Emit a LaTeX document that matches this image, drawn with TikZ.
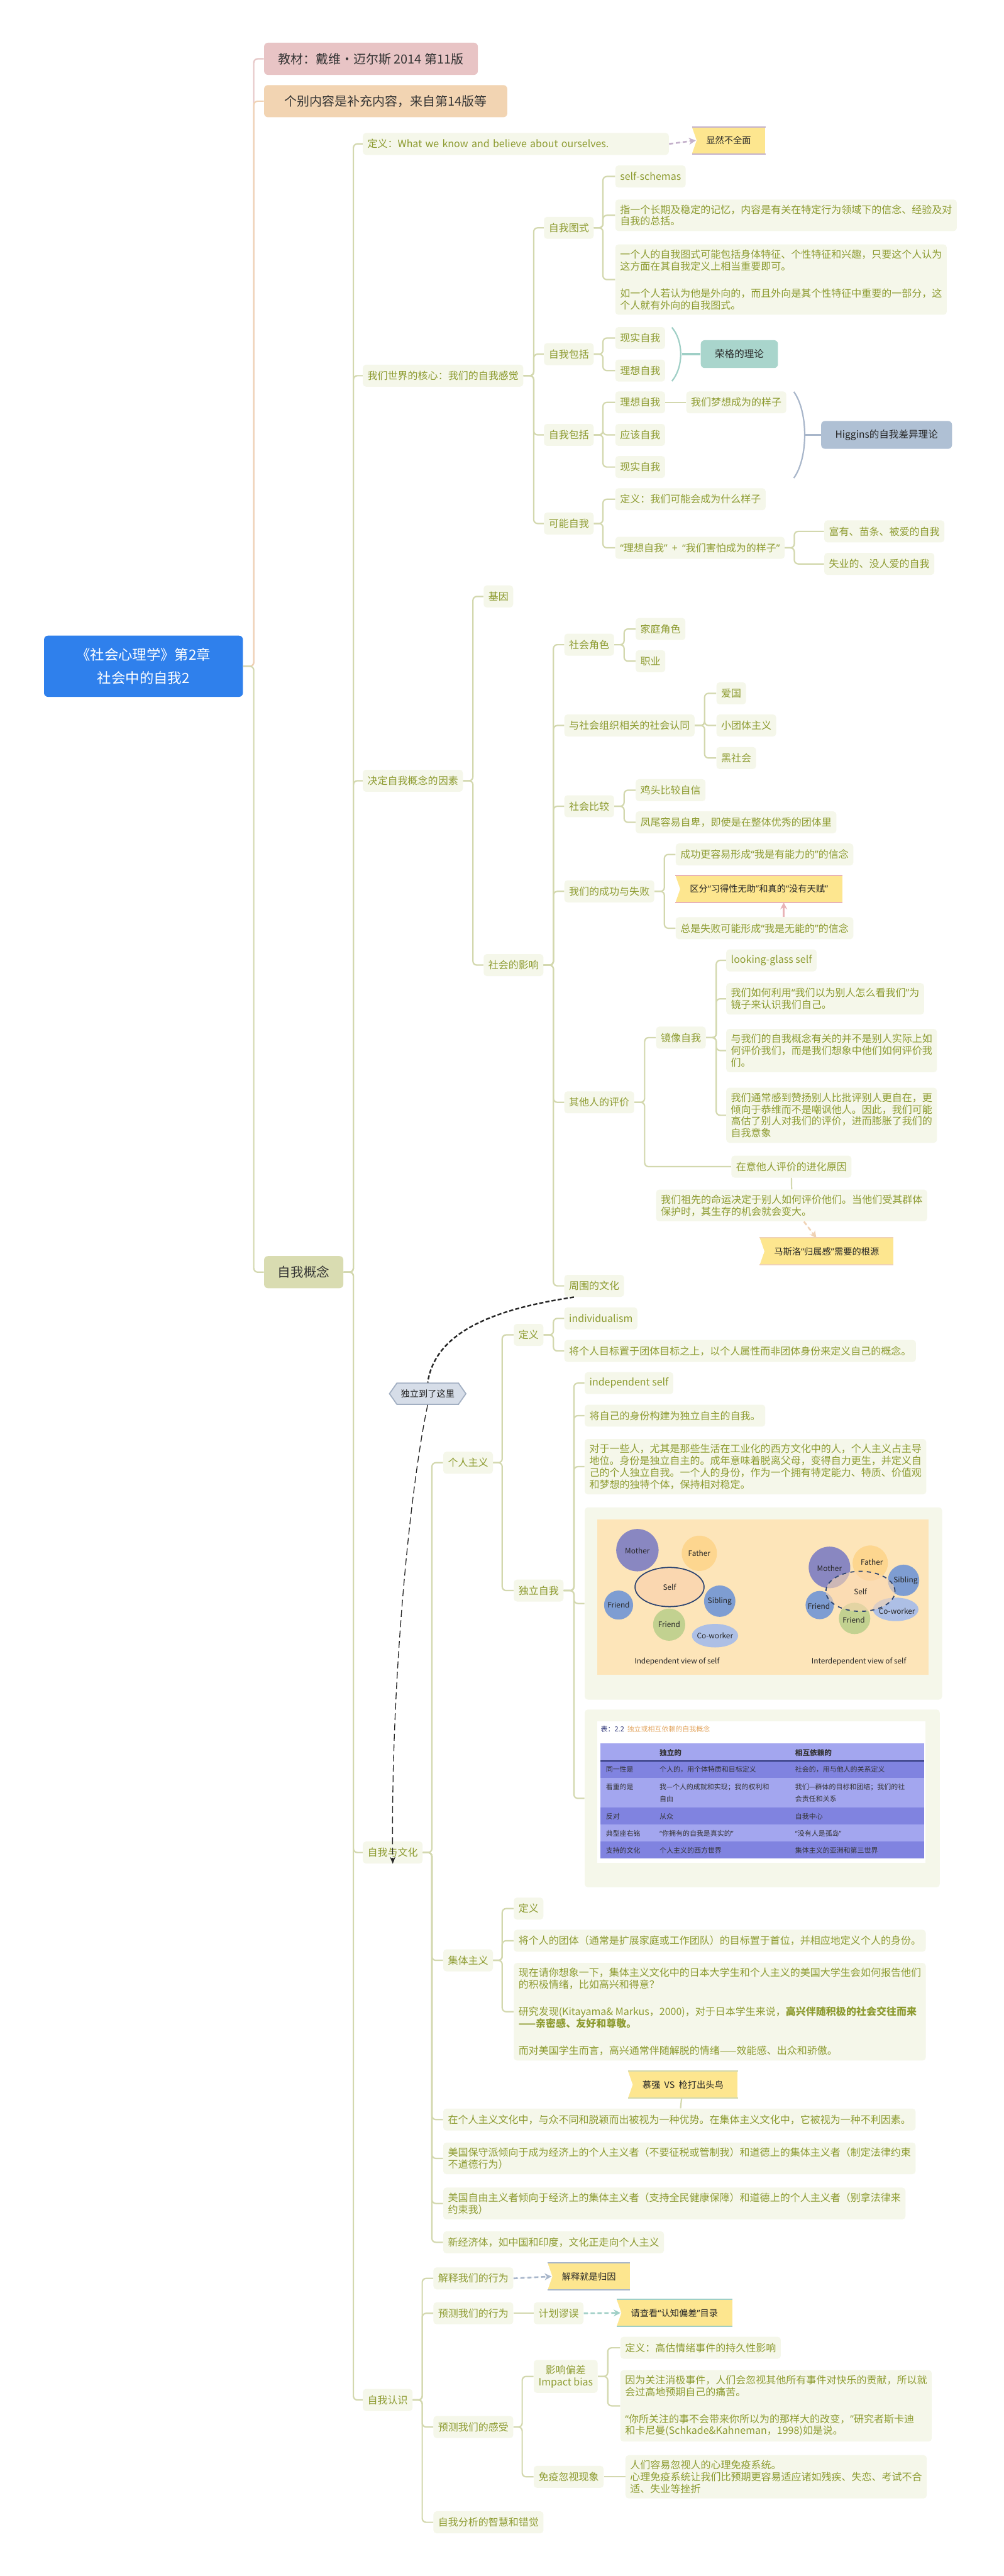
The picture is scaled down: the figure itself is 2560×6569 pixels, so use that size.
\documentclass[tikz,border=0pt]{standalone}
\usepackage{fontspec}
\setmainfont{Noto Sans CJK SC}
\newfontfamily\quotefont{Noto Sans}
\usetikzlibrary{arrows.meta,shapes.symbols}

% narrow (western) curly quotes, as in the reference
\XeTeXinterchartokenstate=1
\newXeTeXintercharclass\quoteclass
\XeTeXcharclass`“=\quoteclass
\XeTeXcharclass`”=\quoteclass
\XeTeXinterchartoks 0 \quoteclass={\quotefont}
\XeTeXinterchartoks 4095 \quoteclass={\quotefont}
\XeTeXinterchartoks \quoteclass 0={\rmfamily}
\XeTeXinterchartoks \quoteclass 4095={\rmfamily}

\definecolor{rootblue}{HTML}{2F80EC}
\definecolor{topicfill}{HTML}{F5F7EA}
\definecolor{topictext}{HTML}{8D9B30}
\definecolor{branch}{HTML}{D3D8AE}
\definecolor{pinkbox}{HTML}{E8C4C5}
\definecolor{pinkline}{HTML}{E6C6C6}
\definecolor{peachbox}{HTML}{F2D4B2}
\definecolor{peachline}{HTML}{F0D2B4}
\definecolor{olivebox}{HTML}{D9DCB1}
\definecolor{noteyellow}{HTML}{FDE68F}
\definecolor{tealbox}{HTML}{A9D5CC}
\definecolor{tealline}{HTML}{9FCFC6}
\definecolor{greybox}{HTML}{AFC0D4}
\definecolor{greyline}{HTML}{A8B6CA}
\definecolor{purpleline}{HTML}{C4B1CB}
\definecolor{rosearrow}{HTML}{E8B3B6}
\definecolor{hexfill}{HTML}{D6DDE8}
\definecolor{hexline}{HTML}{A2AFC2}
\definecolor{figpanel}{HTML}{FDE5B9}
\definecolor{mothercol}{HTML}{8987C1}
\definecolor{fathercol}{HTML}{FDD68F}
\definecolor{selfcol}{HTML}{FAD7B0}
\definecolor{bluecol}{HTML}{7E9DD2}
\definecolor{greencol}{HTML}{C2D190}
\definecolor{cowcol}{HTML}{ADBFE5}
\definecolor{navy}{HTML}{2C4470}
\definecolor{rowlight}{HTML}{A3A6EF}
\definecolor{rowdark}{HTML}{8083E0}
\definecolor{tabnavy}{HTML}{2E3578}
\definecolor{taborange}{HTML}{E3A55F}

% yellow flag callouts: notch on the left, coloured top and bottom rims
\newcommand{\flagnotch}[2]{%
  \fill[white] (#1.north west) -- ([xshift=0.12cm]#1.west) -- (#1.south west) -- cycle;
  \draw[#2, line width=0.9pt] (#1.north west) -- (#1.north east) (#1.south west) -- (#1.south east);}

\begin{document}
\begin{tikzpicture}[x=0.01cm,y=-0.01cm]
\tikzstyle{topic}=[rectangle, rounded corners=0.08cm, fill=topicfill, text=topictext, font=\fontsize{7.3pt}{8.6pt}\selectfont, inner xsep=0.12cm, inner ysep=0.13cm, minimum height=0.56cm, anchor=west, align=left]
\tikzstyle{mainbox}=[rectangle, rounded corners=0.1cm, text=black!80, font=\fontsize{9.1pt}{11pt}\selectfont, minimum height=0.82cm, anchor=west]
\tikzstyle{note}=[rectangle, fill=noteyellow, text=black!85, font=\fontsize{6.5pt}{8pt}\selectfont, inner xsep=0.36cm, minimum height=0.67cm, anchor=west]
\tikzstyle{theory}=[rectangle, rounded corners=0.1cm, text=black!85, font=\fontsize{7.1pt}{8.6pt}\selectfont, inner xsep=0.36cm, minimum height=0.71cm, anchor=west]
\tikzstyle{link}=[draw=branch, line width=1pt, rounded corners=0.1cm]
\tikzstyle{relarrow}=[line width=1.2pt, dash pattern=on 3pt off 2pt, -{Stealth[length=5pt,width=5pt]}]
\tikzstyle{small}=[font=\fontsize{5.4pt}{6.5pt}\selectfont, text=black!85, inner sep=0pt]
\tikzstyle{tabtext}=[font=\fontsize{5pt}{8.6pt}\selectfont, text=black!80, anchor=west, inner sep=0pt, align=left]

\useasboundingbox (0,0) rectangle (2560,6569);
\fill[white] (0,0) rectangle (2560,6569);

% root and first level
\node[rectangle, rounded corners=0.1cm, fill=rootblue, text=white, minimum width=5.07cm, minimum height=1.56cm, align=center, font=\fontsize{10.2pt}{16.5pt}\selectfont] (root) at (366,1699) {《社会心理学》第2章\\社会中的自我2};
\node[mainbox, fill=pinkbox, minimum width=5.45cm] (book) at (673,150) {教材：戴维·迈尔斯 2014 第11版};
\node[mainbox, fill=peachbox, minimum width=6.2cm] (extra) at (673,258) {个别内容是补充内容，来自第14版等};
\node[mainbox, fill=olivebox, minimum width=2.02cm, font=\fontsize{9.4pt}{11pt}\selectfont] (zw) at (673,3244) {自我概念};

\draw[link, draw=pinkline] (root.east) -- ++(27,0) |- (book.west);
\draw[link, draw=peachline] (root.east) -- ++(27,0) |- (extra.west);
\draw[link] (root.east) -- ++(27,0) |- (zw.west);

% second level
\node[topic, text width=7.56cm] (dy) at (925,367) {定义：What we know and believe about ourselves.};
\node[topic] (hx) at (925,958) {我们世界的核心：我们的自我感觉};
\node[topic] (jd) at (925,1991) {决定自我概念的因素};
\node[topic] (wh) at (925,4724) {自我与文化};
\node[topic] (rs) at (925,6120) {自我认识};
\foreach \c in {dy,hx,jd,wh,rs} \draw[link] (zw.east) -- ++(25,0) |- (\c.west);

\node[note] (bq) at (1765,358) {显然不全面};
\flagnotch{bq}{purpleline}
\draw[relarrow, draw=purpleline, fill=purpleline] (dy.east) -- ([xshift=0.1cm]bq.west);

% 我们的自我感觉
\node[topic] (ts) at (1387,581) {自我图式};
\node[topic] (bk1) at (1387,903) {自我包括};
\node[topic] (bk2) at (1387,1109) {自我包括};
\node[topic] (kn) at (1387,1335) {可能自我};
\foreach \c in {ts,bk1,bk2,kn} \draw[link] (hx.east) -- ++(26,0) |- (\c.west);

\node[topic] (ss) at (1569,450) {self-schemas};
\node[topic] (ts1) at (1569,549) {指一个长期及稳定的记忆，内容是有关在特定行为领域下的信念、经验及对\\自我的总括。};
\node[topic] (ts2) at (1569,713) {一个人的自我图式可能包括身体特征、个性特征和兴趣，只要这个人认为\\这方面在其自我定义上相当重要即可。\\[11pt]如一个人若认为他是外向的，而且外向是其个性特征中重要的一部分，这\\个人就有外向的自我图式。};
\foreach \c in {ss,ts1,ts2} \draw[link] (ts.east) -- ++(23,0) |- (\c.west);

\node[topic] (xs1) at (1569,862) {现实自我};
\node[topic] (lx1) at (1569,945) {理想自我};
\foreach \c in {xs1,lx1} \draw[link] (bk1.east) -- ++(23,0) |- (\c.west);
\node[theory, fill=tealbox] (rg) at (1787,903) {荣格的理论};
\draw[tealline, line width=1pt] (1714,835) .. controls (1744,870) and (1744,936) .. (1714,972);
\draw[tealline, line width=1.5pt] (1740,903) -- (rg.west);

\node[topic] (lx2) at (1569,1026) {理想自我};
\node[topic] (yg) at (1569,1109) {应该自我};
\node[topic] (xs2) at (1569,1191) {现实自我};
\foreach \c in {lx2,yg,xs2} \draw[link] (bk2.east) -- ++(23,0) |- (\c.west);
\node[topic] (mx) at (1750,1026) {我们梦想成为的样子};
\draw[link] (lx2.east) -- (mx.west);
\node[theory, fill=greybox] (hg) at (2094,1109) {Higgins的自我差异理论};
\draw[greyline, line width=1pt] (2025,999) .. controls (2062,1050) and (2062,1168) .. (2025,1219);
\draw[greyline, line width=1.5pt] (2053,1109) -- (hg.west);

\node[topic] (kdy) at (1569,1273) {定义：我们可能会成为什么样子};
\node[topic] (lh) at (1569,1397) {“理想自我”\ \ +\ \ “我们害怕成为的样子”};
\foreach \c in {kdy,lh} \draw[link] (kn.east) -- ++(23,0) |- (\c.west);
\node[topic] (fy) at (2102,1355) {富有、苗条、被爱的自我};
\node[topic] (sy) at (2102,1438) {失业的、没人爱的自我};
\foreach \c in {fy,sy} \draw[link] (lh.east) -- ++(24,0) |- (\c.west);

% 决定自我概念的因素
\node[topic] (jy) at (1233,1521) {基因};
\node[topic] (sh) at (1233,2461) {社会的影响};
\foreach \c in {jy,sh} \draw[link] (jd.east) -- ++(25,0) |- (\c.west);

\node[topic] (js) at (1439,1644) {社会角色};
\node[topic] (rt) at (1439,1850) {与社会组织相关的社会认同};
\node[topic] (bj) at (1439,2056) {社会比较};
\node[topic] (cg) at (1439,2273) {我们的成功与失败};
\node[topic] (pj) at (1439,2811) {其他人的评价};
\node[topic] (whz) at (1439,3279) {周围的文化};
\foreach \c in {js,rt,bj,cg,pj,whz} \draw[link] (sh.east) -- ++(25,0) |- (\c.west);

\node[topic] (jt1) at (1621,1604) {家庭角色};
\node[topic] (zy) at (1621,1686) {职业};
\foreach \c in {jt1,zy} \draw[link] (js.east) -- ++(25,0) |- (\c.west);
\node[topic] (ag) at (1827,1768) {爱国};
\node[topic] (xt) at (1827,1850) {小团体主义};
\node[topic] (hs) at (1827,1933) {黑社会};
\foreach \c in {ag,xt,hs} \draw[link] (rt.east) -- ++(25,0) |- (\c.west);
\node[topic] (jt2) at (1621,2015) {鸡头比较自信};
\node[topic] (fw) at (1621,2097) {凤尾容易自卑，即使是在整体优秀的团体里};
\foreach \c in {jt2,fw} \draw[link] (bj.east) -- ++(25,0) |- (\c.west);

\node[topic] (cgx) at (1723,2179) {成功更容易形成“我是有能力的”的信念};
\node[topic] (zs) at (1723,2367) {总是失败可能形成“我是无能的”的信念};
\foreach \c in {cgx,zs} \draw[link] (cg.east) -- ++(25,0) |- (\c.west);
\node[note] (qf) at (1723,2267) {区分“习得性无助”和真的“没有天赋”};
\flagnotch{qf}{rosearrow}
\draw[relarrow, draw=rosearrow, fill=rosearrow, solid] ([xshift=0.49cm]zs.north) -- ([xshift=0.49cm]zs.north |- qf.south);

\node[topic] (jx) at (1673,2646) {镜像自我};
\node[topic] (yh) at (1865,2975) {在意他人评价的进化原因};
\foreach \c in {jx,yh} \draw[link] (pj.east) -- ++(26,0) |- (\c.west);
\node[topic] (lg) at (1852,2449) {looking-glass self};
\node[topic] (jx1) at (1852,2547) {我们如何利用“我们以为别人怎么看我们”为\\镜子来认识我们自己。};
\node[topic] (jx2) at (1852,2679) {与我们的自我概念有关的并不是别人实际上如\\何评价我们，而是我们想象中他们如何评价我\\们。};
\node[topic] (jx3) at (1852,2844) {我们通常感到赞扬别人比批评别人更自在，更\\倾向于恭维而不是嘲讽他人。因此，我们可能\\高估了别人对我们的评价，进而膨胀了我们的\\自我意象};
\foreach \c in {lg,jx1,jx2,jx3} \draw[link] (jx.east) -- ++(26,0) |- (\c.west);

\node[topic] (zx) at (1673,3074) {我们祖先的命运决定于别人如何评价他们。当他们受其群体\\保护时，其生存的机会就会变大。};
\draw[link] (yh.south) -- (zx.north);
\node[note] (msl) at (1938,3191) {马斯洛“归属感”需要的根源};
\flagnotch{msl}{peachline}
\draw[relarrow, draw=peachline, fill=peachline] (zx) -- (msl);

% 独立到了这里
\node[signal, signal to=west and east, signal pointer angle=110, fill=hexfill, draw=hexline, line width=0.8pt, text=black!85, font=\fontsize{6.5pt}{8pt}\selectfont, minimum height=0.54cm, inner xsep=0.1cm] (jump) at (1091,3554) {独立到了这里};
\draw[line width=1.1pt, dash pattern=on 3pt off 1.5pt, black!85] ([xshift=0.25cm]whz.south west) .. controls (1250,3340) and (1110,3400) .. (jump.north);
\draw[line width=0.6pt, dash pattern=on 5pt off 2.5pt, black!85, -{Stealth[length=5pt,width=4pt]}] (jump.south) .. controls (1045,3800) and (996,4300) .. (wh.south);

% 自我与文化
\node[topic] (gr) at (1130,3730) {个人主义};
\node[topic] (jti) at (1130,4999) {集体主义};
\node[topic] (zz1) at (1130,5405) {在个人主义文化中，与众不同和脱颖而出被视为一种优势。在集体主义文化中，它被视为一种不利因素。};
\node[topic] (mb) at (1130,5504) {美国保守派倾向于成为经济上的个人主义者（不要征税或管制我）和道德上的集体主义者（制定法律约束\\不道德行为）};
\node[topic] (mz) at (1130,5619) {美国自由主义者倾向于经济上的集体主义者（支持全民健康保障）和道德上的个人主义者（别拿法律来\\约束我）};
\node[topic] (xj) at (1130,5718) {新经济体，如中国和印度，文化正走向个人主义};
\foreach \c in {gr,jti,zz1,mb,mz,xj} \draw[link] (wh.east) -- ++(23,0) |- (\c.west);
\node[note] (mq) at (1602,5316) {慕强\ \ VS\ \ 枪打出头鸟};
\flagnotch{mq}{branch}
\draw[link] (zz1) -- (mq);

\node[topic] (gd) at (1310,3404) {定义};
\node[topic] (dl) at (1310,4056) {独立自我};
\foreach \c in {gd,dl} \draw[link] (gr.east) -- ++(23,0) |- (\c.west);
\node[topic] (ind) at (1439,3362) {individualism};
\node[topic] (gdd) at (1439,3445) {将个人目标置于团体目标之上，以个人属性而非团体身份来定义自己的概念。};
\foreach \c in {ind,gdd} \draw[link] (gd.east) -- ++(25,0) |- (\c.west);

\node[topic] (is) at (1491,3527) {independent self};
\node[topic] (jz) at (1491,3610) {将自己的身份构建为独立自主的自我。};
\node[topic] (dx) at (1491,3740) {对于一些人，尤其是那些生活在工业化的西方文化中的人，个人主义占主导\\地位。身份是独立自主的。成年意味着脱离父母，变得自力更生，并定义自\\己的个人独立自我。一个人的身份，作为一个拥有特定能力、特质、价值观\\和梦想的独特个体，保持相对稳定。};
\node[topic, minimum width=9.11cm, minimum height=4.9cm] (fig) at (1491,4089) {};
\node[topic, minimum width=9.05cm, minimum height=4.53cm] (tab) at (1491,4586) {};
\foreach \c in {is,jz,dx,fig,tab} \draw[link] (dl.east) -- ++(26,0) |- (\c.west);

% picture: independent / interdependent view of self
\fill[figpanel] (1524,3874) rectangle (2368,4271);
\fill[mothercol] (1626,3953) circle (0.54cm);
\fill[fathercol] (1784,3961) circle (0.45cm);
\fill[bluecol] (1578,4093) circle (0.37cm);
\fill[bluecol] (1836,4083) circle (0.40cm);
\fill[greencol] (1707,4143) circle (0.41cm);
\fill[cowcol] (1824,4171) ellipse [x radius=0.59cm, y radius=0.30cm];
\filldraw[fill=selfcol, draw=navy, line width=0.8pt] (1708,4047) ellipse [x radius=0.88cm, y radius=0.50cm];
\node[small] (m1) at (1626,3954) {Mother};
\node[small] (f1) at (1784,3961) {Father};
\node[small] (s1) at (1708,4047) {Self};
\node[small] (fa1) at (1578,4093) {Friend};
\node[small] (sb1) at (1836,4083) {Sibling};
\node[small] (fb1) at (1707,4143) {Friend};
\node[small] (cw1) at (1824,4171) {Co-worker};
\fill[mothercol] (2116,3997) circle (0.53cm);
\fill[fathercol] (2220,3986) circle (0.45cm);
\fill[bluecol] (2305,4030) circle (0.40cm);
\fill[bluecol] (2091,4093) circle (0.36cm);
\fill[greencol] (2180,4127) circle (0.40cm);
\fill[cowcol] (2285,4104) ellipse [x radius=0.58cm, y radius=0.30cm];
\fill[selfcol, opacity=0.6] (2195,4058) ellipse [x radius=0.88cm, y radius=0.51cm];
\draw[navy, line width=0.8pt, dashed] (2195,4058) ellipse [x radius=0.88cm, y radius=0.51cm];
\node[small] (m2) at (2116,3999) {Mother};
\node[small] (f2) at (2224,3984) {Father};
\node[small] (sb2) at (2310,4030) {Sibling};
\node[small] (s2) at (2195,4058) {Self};
\node[small] (fa2) at (2089,4095) {Friend};
\node[small] (fb2) at (2178,4131) {Friend};
\node[small] (cw2) at (2288,4108) {Co-worker};
\node[small] (lab1) at (1727,4237) {Independent view of self};
\node[small] (lab2) at (2191,4237) {Interdependent view of self};

% table 2.2
\fill[white] (1524,4390) rectangle (2361,4750);
\node[tabtext] (tt) at (1532,4409) {\textcolor{tabnavy}{表：2.2}\ \ \textcolor{taborange}{独立或相互依赖的自我概念}};
\fill[rowlight] (1532,4445) rectangle (2357,4491);
\fill[rowdark] (1532,4491) rectangle (2357,4534);
\fill[rowlight] (1532,4534) rectangle (2357,4609);
\fill[rowdark] (1532,4609) rectangle (2357,4652);
\fill[rowlight] (1532,4652) rectangle (2357,4696);
\fill[rowdark] (1532,4696) rectangle (2357,4739);
\draw[tabnavy, line width=0.8pt] (1532,4491) -- (2357,4491);
\node[tabtext, font=\bfseries\fontsize{5.3pt}{8pt}\selectfont] (h1) at (1682,4470) {独立的};
\node[tabtext, font=\bfseries\fontsize{5.3pt}{8pt}\selectfont] (h2) at (2028,4470) {相互依赖的};
\node[tabtext] (r1a) at (1545,4512) {同一性是};
\node[tabtext] (r1b) at (1682,4512) {个人的，用个体特质和目标定义};
\node[tabtext] (r1c) at (2028,4512) {社会的，用与他人的关系定义};
\node[tabtext] (r2a) at (1545,4556) {看重的是};
\node[tabtext] (r2b) at (1682,4572) {我—个人的成就和实现；我的权利和\\自由};
\node[tabtext] (r2c) at (2028,4572) {我们—群体的目标和团结；我们的社\\会责任和关系};
\node[tabtext] (r3a) at (1545,4632) {反对};
\node[tabtext] (r3b) at (1682,4632) {从众};
\node[tabtext] (r3c) at (2028,4632) {自我中心};
\node[tabtext] (r4a) at (1545,4675) {典型座右铭};
\node[tabtext] (r4b) at (1682,4675) {“你拥有的自我是真实的”};
\node[tabtext] (r4c) at (2028,4675) {“没有人是孤岛”};
\node[tabtext] (r5a) at (1545,4718) {支持的文化};
\node[tabtext] (r5b) at (1682,4718) {个人主义的西方世界};
\node[tabtext] (r5c) at (2028,4718) {集体主义的亚洲和第三世界};

\node[topic] (jdy) at (1310,4867) {定义};
\node[topic] (jdd) at (1310,4949) {将个人的团体（通常是扩展家庭或工作团队）的目标置于首位，并相应地定义个人的身份。};
\node[topic] (jlong) at (1310,5130) {现在请你想象一下，集体主义文化中的日本大学生和个人主义的美国大学生会如何报告他们\\的积极情绪，比如高兴和得意？\\[11pt]研究发现(Kitayama\& Markus，2000)，对于日本学生来说，\textbf{高兴伴随积极的社会交往而来}\\\textbf{——亲密感、友好和尊敬。}\\[11pt]而对美国学生而言，高兴通常伴随解脱的情绪——效能感、出众和骄傲。};
\foreach \c in {jdy,jdd,jlong} \draw[link] (jti.east) -- ++(23,0) |- (\c.west);

% 自我认识
\node[topic] (jsx) at (1105,5810) {解释我们的行为};
\node[topic] (ycx) at (1105,5899) {预测我们的行为};
\node[topic] (ycg) at (1105,6189) {预测我们的感受};
\node[topic] (zf) at (1105,6432) {自我分析的智慧和错觉};
\foreach \c in {jsx,ycx,ycg,zf} \draw[link] (rs.east) -- ++(24,0) |- (\c.west);

\node[note] (gy) at (1397,5805) {解释就是归因};
\flagnotch{gy}{greyline}
\draw[relarrow, draw=greyline, fill=greyline] (jsx.east) -- ([xshift=0.1cm]gy.west);
\node[topic] (jh) at (1361,5899) {计划谬误};
\draw[link] (ycx.east) -- (jh.west);
\node[note] (rz) at (1573,5898) {请查看“认知偏差”目录};
\flagnotch{rz}{tealline}
\draw[relarrow, draw=tealline, fill=tealline] (jh.east) -- ([xshift=0.1cm]rz.west);

\node[topic, align=center] (yx) at (1361,6060) {影响偏差\\Impact bias};
\node[topic] (my) at (1361,6316) {免疫忽视现象};
\foreach \c in {yx,my} \draw[link] (ycg.east) -- ++(22,0) |- (\c.west);
\node[topic] (ydy) at (1582,5987) {定义：高估情绪事件的持久性影响};
\node[topic] (ylong) at (1582,6135) {因为关注消极事件，人们会忽视其他所有事件对快乐的贡献，所以就\\会过高地预期自己的痛苦。\\[11pt]“你所关注的事不会带来你所以为的那样大的改变，”研究者斯卡迪\\和卡尼曼(Schkade\&Kahneman，1998)如是说。};
\foreach \c in {ydy,ylong} \draw[link] (yx.east) -- ++(25,0) |- (\c.west);
\node[topic] (myl) at (1595,6316) {人们容易忽视人的心理免疫系统。\\心理免疫系统让我们比预期更容易适应诸如残疾、失恋、考试不合\\适、失业等挫折};
\draw[link] (my.east) -- (myl.west);
\end{tikzpicture}
\end{document}
